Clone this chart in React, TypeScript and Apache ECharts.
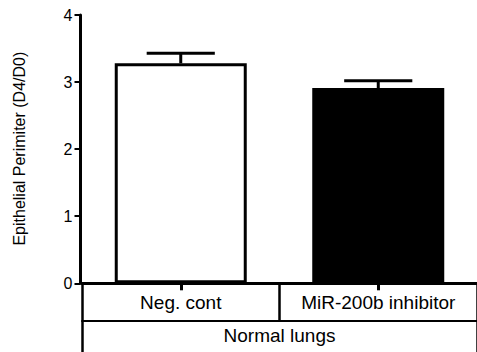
import React, { useEffect, useRef } from "react";
import * as echarts from "echarts";

const categories = ["Neg. cont", "MiR-200b inhibitor"];
const groupLabels = ["Normal lungs"];
const means = [3.28, 2.91];
const errors = [0.15, 0.11];
const barColors = ["#ffffff", "#000000"];
const yMin = 0;
const yMax = 4;
const yInterval = 1;
const yTitle = "Epithelial Perimiter (D4/D0)";

export default function App() {
  const ref = useRef<HTMLDivElement>(null);
  useEffect(() => {
    if (!ref.current) return;
    const chart = echarts.init(ref.current, null, { renderer: "svg" });
    const font = "'Liberation Sans', Arial, Helvetica, sans-serif";
    chart.setOption({
      animation: false,
      grid: { left: 82, right: -3, top: 15, bottom: 68.7, containLabel: false },
      xAxis: [
        {
          type: "category",
          data: categories,
          position: "bottom",
          axisLine: { show: true, lineStyle: { color: "#000", width: 3 } },
          axisTick: { show: true, alignWithLabel: true, length: 7, lineStyle: { color: "#000", width: 3 } },
          axisLabel: { color: "#000", fontSize: 19, fontFamily: font, margin: 10, interval: 0 },
          splitLine: { show: false },
        },
        {
          type: "category",
          data: categories,
          position: "bottom",
          offset: 0,
          axisLine: { show: false },
          axisTick: { show: true, alignWithLabel: false, interval: 0, length: 37.4, lineStyle: { color: "#000", width: 2.5 } },
          axisLabel: { show: false },
          splitLine: { show: false },
        },
        {
          type: "category",
          data: groupLabels,
          position: "bottom",
          offset: 37.4,
          axisLine: { show: true, lineStyle: { color: "#000", width: 2 } },
          axisTick: { show: true, alignWithLabel: false, interval: 0, length: 40, lineStyle: { color: "#000", width: 2.5 } },
          axisLabel: { color: "#000", fontSize: 19, fontFamily: font, margin: 5, interval: 0 },
          splitLine: { show: false },
        },
      ],
      yAxis: {
        type: "value",
        min: yMin,
        max: yMax,
        interval: yInterval,
        offset: 1.5,
        name: yTitle,
        nameLocation: "middle",
        nameGap: 53,
        nameTextStyle: { color: "#000000", fontSize: 16, fontFamily: font, padding: [0, 0, 0, 1] },
        axisLine: { show: true, lineStyle: { color: "#000", width: 3 } },
        axisTick: { show: true, length: 6, lineStyle: { color: "#000", width: 2 } },
        axisLabel: { color: "#000", fontSize: 16, fontFamily: font, margin: 8 },
        splitLine: { show: false },
      },
      series: [
        {
          type: "bar",
          xAxisIndex: 0,
          barWidth: 132,
          data: means.map((v, i) => ({ value: v, itemStyle: { color: barColors[i] } })),
          itemStyle: { borderColor: "#000", borderWidth: 3 },
          z: 2,
        },
        {
          type: "custom",
          xAxisIndex: 0,
          z: 3,
          data: means.map((v, i) => [i, v, errors[i]]),
          renderItem: (params: any, api: any) => {
            const x = api.value(0);
            const m = api.value(1);
            const e = api.value(2);
            const base = api.coord([x, m]);
            const top = api.coord([x, m + e]);
            const half = api.size([1, 0])[0] * 0.1725;
            return {
              type: "group",
              children: [
                { type: "line", shape: { x1: base[0], y1: base[1], x2: top[0], y2: top[1] }, style: { stroke: "#000", lineWidth: 3 } },
                { type: "line", shape: { x1: top[0] - half, y1: top[1], x2: top[0] + half, y2: top[1] }, style: { stroke: "#000", lineWidth: 3 } },
              ],
            };
          },
        },
      ],
    });
    return () => chart.dispose();
  }, []);
  return <div ref={ref} style={{ position: "absolute", left: 0, top: 0, width: 477, height: 352 }} />;
}
